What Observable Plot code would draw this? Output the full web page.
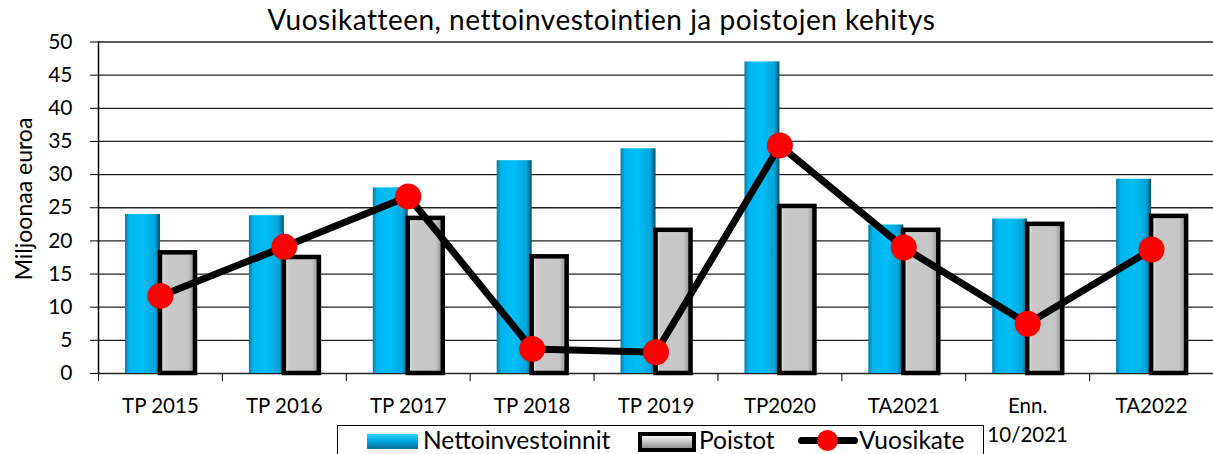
<!DOCTYPE html>
<html><head><meta charset="utf-8">
<script src="https://cdn.jsdelivr.net/npm/d3@7"></script>
<script src="https://cdn.jsdelivr.net/npm/@observablehq/plot@0.6"></script>
<style>
body{margin:0;background:#fff;font-family:Lato,"Open Sans",sans-serif;}
#wrap{position:relative;width:1213px;height:454px;overflow:hidden;}
#title{position:absolute;top:2px;left:0;width:1203px;text-align:center;font-size:28px;letter-spacing:0.5px;color:#000;}
#chart{position:absolute;top:30px;left:0;}
#ylabel{position:absolute;left:23px;top:199px;transform:translate(-50%,-50%) rotate(-90deg);font-size:23px;white-space:nowrap;color:#000;}
#legend{position:absolute;left:337px;top:425px;width:645px;height:40px;border:1px solid #000;background:#fff;font-size:24.5px;}
#legend .it{position:absolute;top:-1px;}
.sw{position:absolute;}
</style>
</head><body>
<div id="wrap">
  <div id="title">Vuosikatteen, nettoinvestointien ja poistojen kehitys</div>
  <div id="chart"></div>
  <div id="ylabel">Miljoonaa euroa</div>
  <div id="legend"></div>
</div>
<script>
const categories = ["TP 2015","TP 2016","TP 2017","TP 2018","TP 2019","TP2020","TA2021","Enn.\n10/2021","TA2022"];
const nettoinvestoinnit = [24.0,23.8,28.0,32.1,33.9,47.0,22.4,23.3,29.3];
const poistot = [18.2,17.5,23.4,17.6,21.6,25.2,21.6,22.5,23.7];
const vuosikate = [11.7,19.1,26.7,3.7,3.2,34.4,19.0,7.5,18.7];
const yTicks = [0,5,10,15,20,25,30,35,40,45,50];
const seriesNames = ["Nettoinvestoinnit","Poistot","Vuosikate"];

const table = categories.map((c,i)=>({cat:c, netto:nettoinvestoinnit[i], poistot:poistot[i], vuosikate:vuosikate[i]}));

const W = 1213, H = 424, ML = 98;
const band = (W-ML)/categories.length;

const chart = Plot.plot({
  width: W, height: H,
  marginLeft: ML, marginRight: 0, marginTop: 11.5, marginBottom: 81,
  style: {fontFamily: "Lato, 'Open Sans', sans-serif", fontSize: "20px", color: "#000", background: "transparent", overflow: "visible"},
  x: {domain: categories, padding: 0, round: false, axis: null},
  y: {domain: [0,50], axis: null},
  marks: [
    Plot.gridY(yTicks, {stroke: "#222", strokeOpacity: 1, strokeWidth: 1.3}),
    Plot.barY(table, {x: "cat", y: "netto", fill: "url(#gBlue)", insetLeft: 27, insetRight: band-62}),
    Plot.barY(table, {x: "cat", y: "poistot", fill: "url(#gGray)", stroke: "#000", strokeWidth: 4.5, insetLeft: 62, insetRight: band-97}),
    Plot.line(table, {x: "cat", y: "vuosikate", stroke: "#000", strokeWidth: 7}),
    Plot.dot(table, {x: "cat", y: "vuosikate", r: 13, fill: "red", stroke: null}),
    Plot.axisY({ticks: yTicks, tickSize: 8, tickPadding: 18, fontSize: 21, label: null, stroke: "#000"}),
    Plot.axisX({tickSize: 8, tickFormat: () => "", dx: -band/2, label: null, stroke: "#000"}),
    Plot.axisX({tickSize: 0, tickPadding: 18, label: null, lineHeight: 1.45, fontSize: 20.5}),
    Plot.frame({anchor: "left", stroke: "#000", strokeWidth: 1.5})
  ]
});
document.getElementById("chart").appendChild(chart);

d3.select(chart).insert("defs", ":first-child").html(`
  <linearGradient id="gBlue" x1="0" x2="1" y1="0" y2="0">
    <stop offset="0" stop-color="#0d7aa3"/>
    <stop offset="0.12" stop-color="#00b4ec"/>
    <stop offset="0.5" stop-color="#00bff7"/>
    <stop offset="0.85" stop-color="#00a6db"/>
    <stop offset="1" stop-color="#04506f"/>
  </linearGradient>
  <linearGradient id="gGray" x1="0" x2="1" y1="0" y2="0">
    <stop offset="0" stop-color="#f0f0f0"/>
    <stop offset="0.15" stop-color="#c9c9c9"/>
    <stop offset="0.8" stop-color="#c6c6c6"/>
    <stop offset="1" stop-color="#8a8a8a"/>
  </linearGradient>
`);

// Legend
const lg = document.getElementById("legend");
lg.innerHTML = `
  <div class="sw" style="left:29px;top:8px;width:51px;height:15px;background:linear-gradient(#3fd3ff,#00b0e8 40%,#0a6f94);"></div>
  <span class="it" style="left:85px">${seriesNames[0]}</span>
  <div class="sw" style="left:300px;top:6px;width:50px;height:12px;border:4px solid #000;background:linear-gradient(#f4f4f4,#c6c6c6 50%,#8e8e8e);"></div>
  <span class="it" style="left:361px">${seriesNames[1]}</span>
  <div class="sw" style="left:460px;top:11px;width:60px;height:7px;background:#000;border-radius:4px;"></div>
  <div class="sw" style="left:479px;top:4px;width:21px;height:21px;border-radius:50%;background:red;"></div>
  <span class="it" style="left:521px">${seriesNames[2]}</span>
`;
</script>
</body></html>
